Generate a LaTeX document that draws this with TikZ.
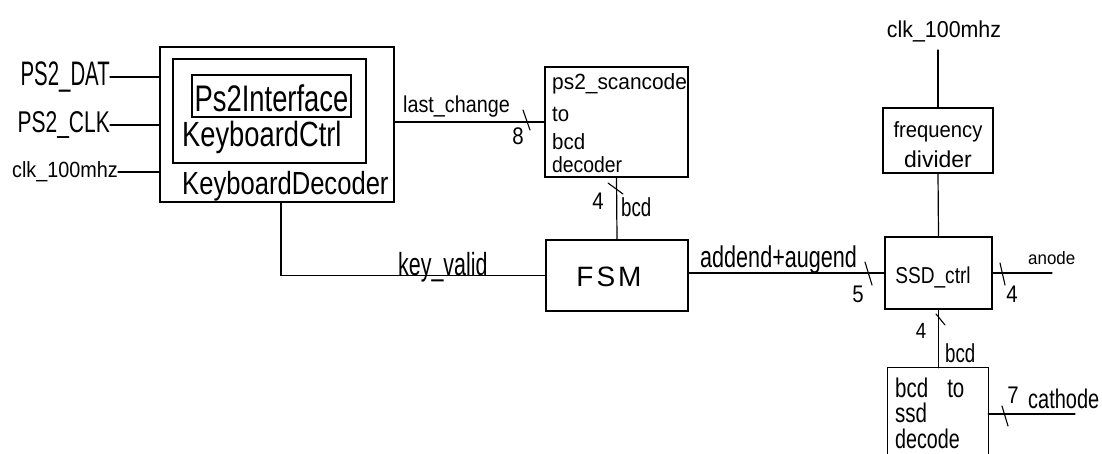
\documentclass[tikz,border=0pt]{standalone}
\usepackage{graphicx}
\usepackage{fontspec}
\setmainfont{Liberation Sans}
\usetikzlibrary{calc}
\newcommand\handtxt[3]{\scalebox{#1}[1]{\fontsize{#2}{#2}\selectfont #3}}
\tikzset{
  wire/.style={line width=1.2pt, line cap=round},
  blk/.style={draw, line width=1.3pt, rectangle, inner sep=0pt},
  txt/.style={inner sep=0pt},
  slashmark/.style={line width=1.1pt, line cap=round},
}
\begin{document}
\begin{tikzpicture}[x=1pt,y=-1pt]
\useasboundingbox (0,0) rectangle (1102,454);

% ---------- blocks ----------
\node[blk, minimum width=234pt, minimum height=155pt] (kd) at (277,124.5) {};
\node[blk, minimum width=193pt, minimum height=104pt] (kc) at (269.5,111) {};
\node[blk, minimum width=159pt, minimum height=42pt] (pi) at (271.5,96) {};
\node[blk, minimum width=143pt, minimum height=110pt] (sc) at (616.5,122) {};
\node[blk, minimum width=142pt, minimum height=71pt] (fsm) at (617,275.5) {};
\node[blk, minimum width=110pt, minimum height=65pt] (fd) at (938,140.5) {};
\node[blk, minimum width=107pt, minimum height=72pt] (ssd) at (938.5,273) {};
\node[inner sep=0pt, minimum width=100pt, minimum height=88pt] (dec) at (938,412) {};
\draw[line width=1.3pt] (dec.south west) -- (dec.north west) -- (dec.north east) -- (dec.south east);

% ---------- block texts ----------
\node[txt, anchor=base] (tpi) at (271.5,112) {\handtxt{0.74}{37}{Ps2Interface}};
\node[txt, anchor=base west] (tkc) at (182,147) {\handtxt{0.78}{35}{KeyboardCtrl}};
\node[txt, anchor=base west] (tkd) at (182,195) {\handtxt{0.8}{32}{KeyboardDecoder}};

\node[txt, anchor=base west] (tsc1) at (552,90) {\handtxt{0.95}{22}{ps2\_scancode}};
\node[txt, anchor=base west] (tsc2) at (552,122) {\handtxt{0.93}{22}{to}};
\node[txt, anchor=base west] (tsc3) at (552,150) {\handtxt{0.93}{22}{bcd}};
\node[txt, anchor=base west] (tsc4) at (552,173) {\handtxt{0.88}{22}{decoder}};

\node[txt] (tfsm) at (609,277) {\handtxt{1}{28}{F\kern3pt S\kern3pt M}};

\node[txt, anchor=base] (tfd1) at (938,138) {\handtxt{0.92}{22}{frequency}};
\node[txt, anchor=base] (tfd2) at (938,168) {\handtxt{1}{23}{divider}};

\node[txt, anchor=base] (tssd) at (933,283) {\handtxt{0.83}{23}{SSD\_ctrl}};

\node[txt, anchor=base west] (tdec1) at (895,397) {\handtxt{0.76}{27}{bcd\kern25pt to}};
\node[txt, anchor=base west] (tdec2) at (895,422) {\handtxt{0.76}{27}{ssd}};
\node[txt, anchor=base west] (tdec3) at (895,448) {\handtxt{0.73}{27}{decode}};

% ---------- inputs ----------
\node[txt, anchor=east] (pdat) at (110,77) {\handtxt{0.6}{34}{PS2\_DAT}};
\node[txt, anchor=east] (pclk) at (110,125) {\handtxt{0.7}{30}{PS2\_CLK}};
\node[txt, anchor=east] (clkl) at (118,172) {\handtxt{0.9}{22}{clk\_100mhz}};
\draw[wire] (pdat.east) -- (pdat.east -| kd.west);
\draw[wire] (pclk.east) -- (pclk.east -| kd.west);
\draw[wire] (clkl.east) -- (clkl.east -| kd.west);

% ---------- last_change ----------
\draw[wire] (kd.east |- sc.west) -- (sc.west);
\coordinate (s1) at (526,121);
\draw[slashmark] ($(s1)+(-3,-11)$) -- ($(s1)+(4,9)$);
\node[txt, anchor=base west] (llc) at (403,113) {\handtxt{0.86}{23}{last\_change}};
\node[txt, anchor=base] (l8) at (518,145) {\handtxt{0.85}{24}{8}};

% ---------- bcd (scancode -> FSM) ----------
\draw[wire] (sc.south) -- (fsm.north);
\coordinate (s2) at (615,188);
\draw[slashmark] ($(s2)+(-7,-5)$) -- ($(s2)+(8,6)$);
\node[txt, anchor=base] (l4a) at (598,210) {\handtxt{0.85}{24}{4}};
\node[txt, anchor=base west] (lbcd1) at (621,217) {\handtxt{0.72}{26}{bcd}};

% ---------- key_valid ----------
\coordinate (kvx) at (281,0);
\draw[wire] (kd.south -| kvx) |- (fsm.west);
\node[txt, anchor=base west] (lkv) at (398,275) {\handtxt{0.67}{32}{key\_valid}};

% ---------- addend+augend ----------
\draw[wire] (fsm.east |- ssd.west) -- (ssd.west);
\coordinate (s3) at (868,273);
\draw[slashmark] ($(s3)+(-3,-11)$) -- ($(s3)+(4,12)$);
\node[txt, anchor=base west] (laa) at (700,268) {\handtxt{0.72}{30}{addend+augend}};
\node[txt, anchor=base] (l5) at (858,302) {\handtxt{0.85}{24}{5}};

% ---------- anode ----------
\coordinate (an) at (1052,273);
\draw[wire] (ssd.east) -- (an);
\coordinate (s4) at (1003,273);
\draw[slashmark] ($(s4)+(-3,-10)$) -- ($(s4)+(2,12)$);
\node[txt, anchor=base] (l4b) at (1012,302) {\handtxt{0.85}{24}{4}};
\node[txt, anchor=base west] (lan) at (1028,265) {\handtxt{0.94}{18}{anode}};

% ---------- clock / divider ----------
\node[txt, anchor=base] (clkt) at (944,38) {\handtxt{0.93}{23}{clk\_100mhz}};
\coordinate (ct) at (938,50);
\draw[wire] (ct) -- (fd.north);
\draw[wire] (fd.south) -- (ssd.north);

% ---------- bcd (SSD_ctrl -> decoder) ----------
\draw[wire] (ssd.south) -- (ssd.south |- dec.north);
\coordinate (s5) at (940,319);
\draw[slashmark] ($(s5)+(-4,-5)$) -- ($(s5)+(5,6)$);
\node[txt, anchor=base] (l4c) at (921,338) {\handtxt{0.85}{22}{4}};
\node[txt, anchor=base west] (lbcd2) at (945,362) {\handtxt{0.72}{26}{bcd}};

% ---------- cathode ----------
\coordinate (ca) at (1075,414);
\draw[wire] (dec.east |- ca) -- (ca);
\coordinate (s6) at (1005,414);
\draw[slashmark] ($(s6)+(-3,-8)$) -- ($(s6)+(3,12)$);
\node[txt, anchor=base] (l7) at (1013,403) {\handtxt{0.85}{24}{7}};
\node[txt, anchor=base west] (lca) at (1028,408) {\handtxt{0.74}{27}{cathode}};
\end{tikzpicture}
\end{document}
